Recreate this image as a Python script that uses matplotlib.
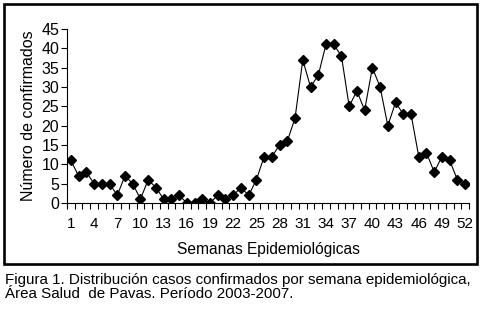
import numpy as np
import matplotlib.pyplot as plt
from matplotlib.patches import Rectangle

# --- datos ----------------------------------------------------------------
semanas = list(range(1, 53))
casos = [11, 7, 8, 5, 5, 5, 2, 7, 5, 1,
         6, 4, 1, 1, 2, 0, 0, 1, 0, 2,
         1, 2, 4, 2, 6, 12, 12, 15, 16, 22,
         37, 30, 33, 41, 41, 38, 25, 29, 24, 35,
         30, 20, 26, 23, 23, 12, 13, 8, 12, 11,
         6, 5]
etiquetas_x = list(range(1, 53, 3))
etiquetas_y = list(range(0, 46, 5))

plt.rcParams['font.family'] = ['Liberation Sans', 'DejaVu Sans']

fig = plt.figure(figsize=(4.83, 3.09), dpi=100)
W, H = 483, 309
ax = fig.add_axes([67 / W, 1 - 203 / H, (469 - 67) / W, (203 - 29) / H])

ax.plot(semanas, casos, color='black', lw=0.8, marker='D', ms=5.0,
        mfc='black', mec='black')

ax.set_xlim(0.5, 52.5)
ax.set_ylim(0, 45)
ax.set_yticks(etiquetas_y)
ax.set_xticks(etiquetas_x)
ax.set_xticks(np.arange(0.5, 53, 1), minor=True)
ax.tick_params(axis='x', which='major', length=0, pad=10, labelsize=11)
ax.tick_params(axis='x', which='minor', length=4, width=0.8, direction='out')
ax.tick_params(axis='y', length=4, width=0.8, pad=1.5, labelsize=11.5)

for s in ['top', 'right']:
    ax.spines[s].set_visible(False)
for s in ['left', 'bottom']:
    ax.spines[s].set_linewidth(0.8)

ax.set_xlabel('Semanas Epidemiológicas', fontsize=11.2, labelpad=8)
ax.set_ylabel('Número de confirmados', fontsize=11.5, labelpad=4)

# marco exterior
fig.patches.append(Rectangle((4 / W, 1 - 264 / H), 473 / W, 260 / H,
                             transform=fig.transFigure, fill=False,
                             ec='black', lw=1.9))

fig.text(5 / W, 1 - 280 / H,
         'Figura 1. Distribución casos confirmados por semana epidemiológica,',
         fontsize=10.9, va='center', ha='left')
fig.text(5 / W, 1 - 294 / H,
         'Área Salud  de Pavas. Período 2003-2007.',
         fontsize=10.9, va='center', ha='left')

fig.savefig('out.png', dpi=100)
